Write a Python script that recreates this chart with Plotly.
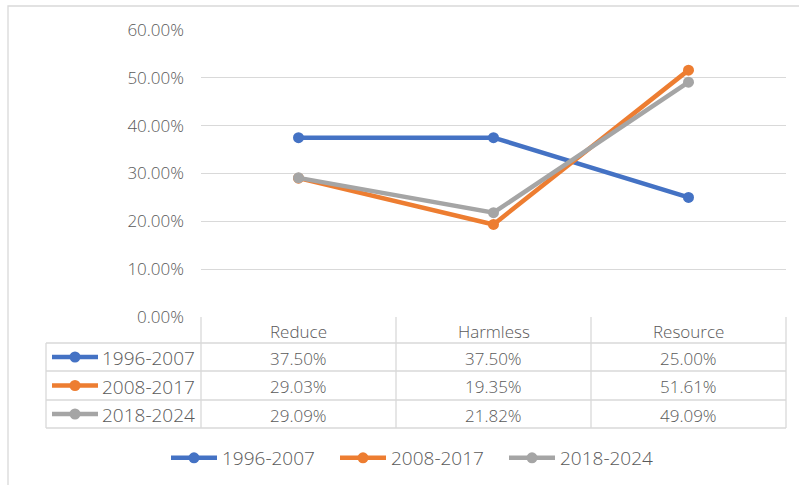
import plotly.graph_objects as go

# ---- data ----
categories = ["Reduce", "Harmless", "Resource"]
series_names = ["1996-2007", "2008-2017", "2018-2024"]
values_1996_2007 = [0.3750, 0.3750, 0.2500]
values_2008_2017 = [0.2903, 0.1935, 0.5161]
values_2018_2024 = [0.2909, 0.2182, 0.4909]
series_values = [values_1996_2007, values_2008_2017, values_2018_2024]
colors = ["#4472C4", "#ED7D31", "#A5A5A5"]

# ---- page geometry (pixels) ----
W, H = 799, 485
PL, PR, PT, PB = 201, 786, 30, 317          # plot area
TBL_LEFT = 46                               # left edge of the data table
ROW_EDGES = [317, 343, 371, 400, 428]       # header + 3 series rows
GRID = "#d9d9d9"
TXT = "#595959"
FONT = "Open Sans"
WEIGHT = 300


def px_x(x):
    return (x - PL) / (PR - PL)


def px_y(y):
    return (PB - y) / (PB - PT)


def txt_font(size):
    return dict(family=FONT, size=size, color=TXT, weight=WEIGHT)


fig = go.Figure()
xs = [i + 0.5 for i in range(len(categories))]
for name, vals, col in zip(series_names, series_values, colors):
    fig.add_trace(go.Scatter(
        x=xs, y=vals, name=name, mode="lines+markers",
        line=dict(color=col, width=4.5),
        marker=dict(color=col, size=11),
        cliponaxis=False,
    ))

shapes = []
annotations = []


def hline(y, x0, x1):
    shapes.append(dict(type="line", xref="paper", yref="paper",
                       x0=px_x(x0), x1=px_x(x1), y0=px_y(y), y1=px_y(y),
                       line=dict(color=GRID, width=1.3), layer="below"))


def vline(x, y0, y1):
    shapes.append(dict(type="line", xref="paper", yref="paper",
                       x0=px_x(x), x1=px_x(x), y0=px_y(y0), y1=px_y(y1),
                       line=dict(color=GRID, width=1.3), layer="below"))


# outer chart frame
shapes.append(dict(type="rect", xref="paper", yref="paper",
                   x0=px_x(8), x1=px_x(W + 5), y0=px_y(6), y1=px_y(H + 5),
                   line=dict(color=GRID, width=1.3), layer="below"))

# data table grid
for y in ROW_EDGES[1:]:
    hline(y, TBL_LEFT, PR)
vline(TBL_LEFT, ROW_EDGES[1], ROW_EDGES[-1])
n = len(categories)
col_w = (PR - PL) / n
for i in range(n + 1):
    vline(PL + i * col_w, ROW_EDGES[0], ROW_EDGES[-1])

# header cells
for i, cat in enumerate(categories):
    annotations.append(dict(
        xref="paper", yref="paper", x=px_x(PL + (i + 0.5) * col_w),
        y=px_y((ROW_EDGES[0] + ROW_EDGES[1]) / 2), text=cat, showarrow=False,
        xanchor="center", yanchor="middle", yshift=-1, font=txt_font(17)))

# series rows: legend key + values
for r, (name, vals, col) in enumerate(zip(series_names, series_values, colors)):
    yc = (ROW_EDGES[r + 1] + ROW_EDGES[r + 2]) / 2
    shapes.append(dict(type="line", xref="paper", yref="paper",
                       x0=px_x(52), x1=px_x(98), y0=px_y(yc), y1=px_y(yc),
                       line=dict(color=col, width=4.5)))
    shapes.append(dict(type="circle", xref="paper", yref="paper",
                       xsizemode="pixel", ysizemode="pixel",
                       xanchor=px_x(75), yanchor=px_y(yc),
                       x0=-5.5, x1=5.5, y0=-5.5, y1=5.5,
                       fillcolor=col, line=dict(color=col, width=0)))
    annotations.append(dict(
        xref="paper", yref="paper", x=px_x(197), y=px_y(yc), text=name,
        showarrow=False, xanchor="right", yanchor="middle", yshift=-1,
        font=txt_font(19)))
    for i, v in enumerate(vals):
        annotations.append(dict(
            xref="paper", yref="paper", x=px_x(PL + (i + 0.5) * col_w),
            y=px_y(yc), text=f"{v * 100:.2f}%", showarrow=False,
            xanchor="center", yanchor="middle", yshift=-1, font=txt_font(17)))

fig.update_layout(
    width=W, height=H,
    margin=dict(l=PL, r=W - PR, t=PT, b=H - PB, pad=0, autoexpand=False),
    paper_bgcolor="white", plot_bgcolor="white",
    font=txt_font(16),
    xaxis=dict(range=[0, n], showgrid=False, zeroline=False,
               showticklabels=False, ticks="", showline=False, fixedrange=True),
    yaxis=dict(range=[0, 0.6], dtick=0.1, tickformat=".2%",
               gridcolor=GRID, gridwidth=1.3, zeroline=False, showline=False,
               ticks="", ticklabelstandoff=16, tickfont=txt_font(17)),
    showlegend=True,
    legend=dict(orientation="h", x=px_x(166), xanchor="left",
                y=px_y(458), yanchor="middle", font=txt_font(19),
                entrywidth=108, entrywidthmode="pixels",
                itemwidth=46, tracegroupgap=0),
    shapes=shapes, annotations=annotations,
)

fig.write_html("out.html")
